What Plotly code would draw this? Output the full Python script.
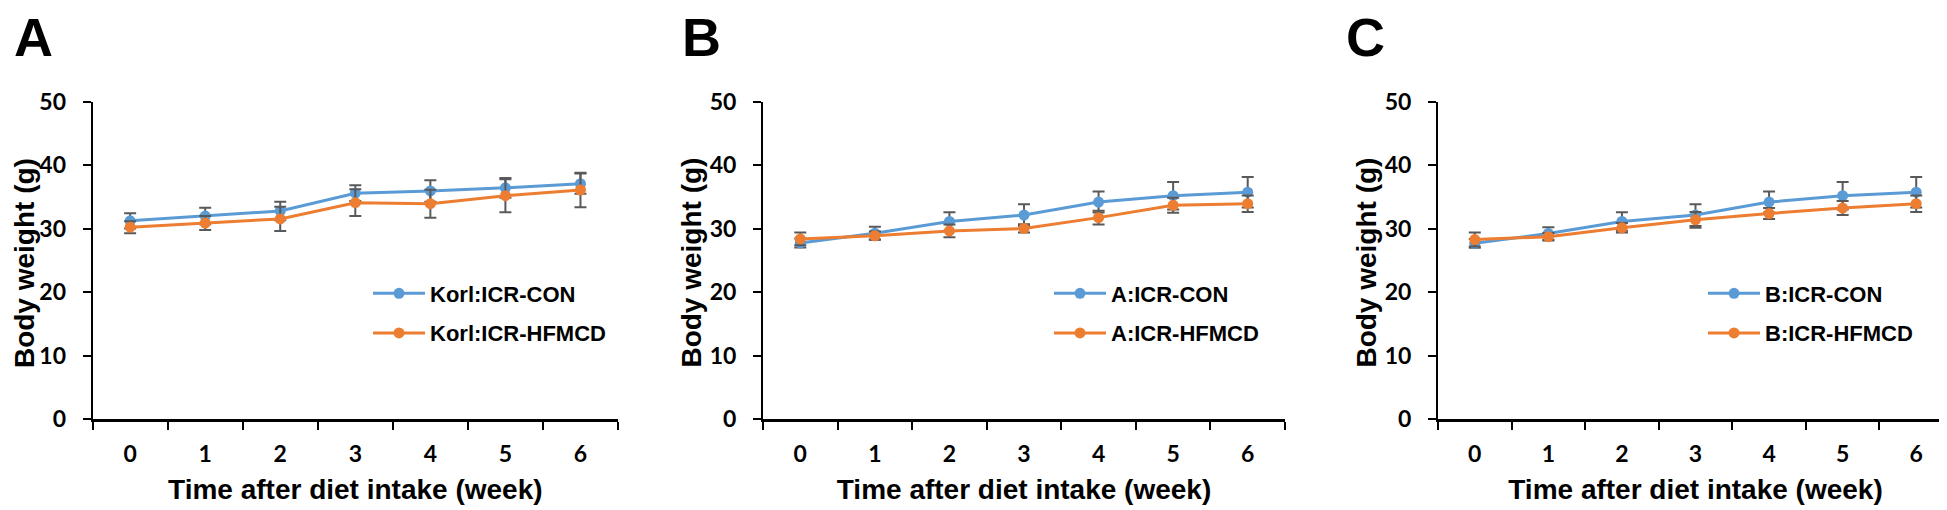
import plotly.graph_objects as go

weeks = ["0", "1", "2", "3", "4", "5", "6"]
y_ticks = [0, 10, 20, 30, 40, 50]

panel_letters = ["A", "B", "C"]
con_names = ["Korl:ICR-CON", "A:ICR-CON", "B:ICR-CON"]
hf_names = ["Korl:ICR-HFMCD", "A:ICR-HFMCD", "B:ICR-HFMCD"]

korl_con = [31.25, 32.0, 32.8, 35.6, 35.95, 36.45, 37.1]
korl_con_err = [1.2, 1.3, 1.45, 1.25, 1.7, 1.55, 1.6]
korl_hf = [30.25, 30.9, 31.55, 34.1, 33.95, 35.2, 36.1]
korl_hf_err = [0.95, 1.1, 1.9, 2.1, 2.2, 2.6, 2.7]

a_con = [27.75, 29.3, 31.15, 32.15, 34.2, 35.2, 35.75]
a_con_err = [0.7, 1.0, 1.45, 1.7, 1.65, 2.15, 2.4]
a_hf = [28.4, 28.9, 29.65, 30.05, 31.75, 33.7, 33.95]
a_hf_err = [1.0, 0.65, 1.0, 0.65, 1.1, 1.2, 1.3]

b_con = [27.7, 29.25, 31.15, 32.15, 34.2, 35.2, 35.75]
b_con_err = [0.7, 1.0, 1.45, 1.7, 1.65, 2.15, 2.4]
b_hf = [28.3, 28.75, 30.15, 31.4, 32.4, 33.25, 33.95]
b_hf_err = [1.1, 0.6, 0.75, 1.25, 0.85, 1.1, 1.3]

CON_COLOR = "#5B9BD5"
HF_COLOR = "#ED7D31"
ERR_COLOR = "#595959"

W, H = 1947, 510
x_domains_px = [(84.6, 610), (755, 1277), (1430, 1945)]
y_top_px, y_bot_px = 83.3, 419.3
y_domain = [(H - y_bot_px) / H, (H - y_top_px) / H]
legend_line_px = [360, 1041, 1695]
letter_px = [4, 672, 1336]
ytitle_offset_px = [68.6, 71.5, 71.5]

con_data = [(korl_con, korl_con_err), (a_con, a_con_err), (b_con, b_con_err)]
hf_data = [(korl_hf, korl_hf_err), (a_hf, a_hf_err), (b_hf, b_hf_err)]

TITLE_FONT = dict(family="Liberation Sans, Arial, sans-serif", size=28, color="black", weight="bold")
TICK_FONT = dict(family="Lato, Liberation Sans, sans-serif", size=23, color="black", weight="bold")

fig = go.Figure()
layout = dict(
    width=W, height=H,
    margin=dict(l=0, r=0, t=0, b=0),
    paper_bgcolor="white", plot_bgcolor="white",
    showlegend=True,
    annotations=[],
)

for i in range(3):
    sfx = "" if i == 0 else str(i + 1)
    xa, ya = "x" + sfx, "y" + sfx
    leg = "legend" + sfx
    for (vals, errs), name, color, grp in [
        (con_data[i], con_names[i], CON_COLOR, "con"),
        (hf_data[i], hf_names[i], HF_COLOR, "hf"),
    ]:
        fig.add_trace(go.Scatter(
            x=weeks, y=vals, name="<b>" + name + "</b>",
            mode="lines+markers",
            line=dict(color=color, width=3),
            marker=dict(color=color, size=11),
            error_y=dict(type="data", array=errs, visible=True,
                         color=ERR_COLOR, thickness=2, width=6),
            xaxis=xa, yaxis=ya, legend=leg, legendgroup=grp + str(i),
        ))
    x0, x1 = x_domains_px[i]
    layout["xaxis" + sfx] = dict(
        domain=[x0 / W, x1 / W], anchor=ya, type="category",
        range=[-0.5, 6.5], showline=True, linecolor="black", linewidth=2.5,
        ticks="outside", tickson="boundaries", ticklen=8, tickwidth=2, tickcolor="black",
        tickfont=TICK_FONT, ticklabelstandoff=12, showgrid=False, zeroline=False,
        title=dict(text="Time after diet intake (week)", font=TITLE_FONT, standoff=14),
        fixedrange=True,
    )
    layout["yaxis" + sfx] = dict(
        domain=y_domain, anchor=xa, range=[0, 50], tickvals=y_ticks,
        showline=True, linecolor="black", linewidth=2,
        ticks="outside", ticklen=8, tickwidth=2, tickcolor="black",
        tickfont=TICK_FONT, ticklabelstandoff=12, showgrid=False, zeroline=False,
        fixedrange=True,
    )
    # y-axis title placed as rotated text left of the tick labels
    layout["annotations"].append(dict(
        text="<b>Body weight (g)</b>", xref="paper", yref="paper",
        x=(x0 - ytitle_offset_px[i]) / W, xanchor="center",
        y=(H - 254) / H, yanchor="middle", textangle=-90,
        showarrow=False, font=dict(family="Liberation Sans, Arial, sans-serif", size=28, color="black"),
    ))
    layout[leg] = dict(
        x=legend_line_px[i] / W, xanchor="left",
        y=(H - 264) / H, yanchor="top",
        bgcolor="rgba(0,0,0,0)", borderwidth=0,
        font=dict(family="Liberation Sans, Arial, sans-serif", size=22, color="black"),
        tracegroupgap=8, traceorder="grouped", itemwidth=52,
    )
    layout["annotations"].append(dict(
        text=panel_letters[i], xref="paper", yref="paper",
        x=letter_px[i] / W, xanchor="left", y=1, yanchor="top", yshift=18,
        showarrow=False,
        font=dict(family="Liberation Sans, Arial, sans-serif", size=54, color="black", weight="bold"),
    ))

fig.update_layout(**layout)
fig.write_html("out.html")
